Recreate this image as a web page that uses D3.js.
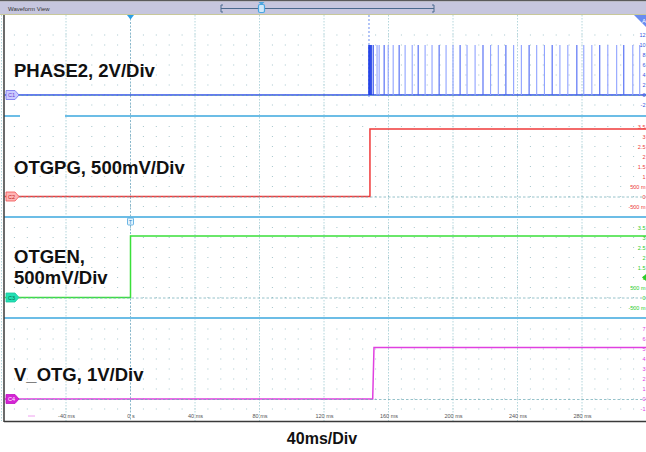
<!DOCTYPE html>
<html>
<head>
<meta charset="utf-8">
<script src="https://cdn.jsdelivr.net/npm/d3@7"></script>
<style>
  html, body { margin: 0; padding: 0; background: #fff; }
  svg { display: block; }
  .ax text { font-family: "Liberation Sans", Arial, sans-serif; font-size: 5.5px; fill: #555; }
</style>
</head>
<body>
<svg id="chart" width="646" height="452"></svg>
<script>
// ---- data ----
const timeTicks = [-40, 0, 40, 80, 120, 160, 200, 240, 280];          // ms
const timeTickLabels = ["-40 ms", "0 s", "40 ms", "80 ms", "120 ms", "160 ms", "200 ms", "240 ms", "280 ms"];

// PHASE2 switching pulses: start times (ms) and peak level (V)
const phase2PulseTimes = [147.9, 148.5, 149.2, 150.5, 152.9, 154.2, 157.3, 159.8, 162.9, 166.6,
  170.3, 174.7, 178.4, 182.7, 187.0, 191.4, 195.7, 200.0, 204.4, 208.7, 213.7, 218.6,
  223.3, 228.1, 232.8, 237.6, 242.4, 247.2, 251.9, 256.7, 261.5, 266.3,
  271.2, 276.8, 281.1, 286.1, 291.0, 296.0, 301.5, 305.9, 311.5, 315.8];
const phase2PulseLevel = 10;

// step waveforms: [time ms, volts]
const otgpgPoints = [[-78, 0], [148.5, 0], [148.5, 3.37], [320, 3.37]];
const otgenPoints = [[-78, 0], [0, 0], [0, 3.07], [320, 3.07]];
const vOtgPoints = [[-78, 0], [150.2, 0], [151.0, 5.15], [320, 5.15]];

// vertical scale labels per channel
const c1Levels = [12, 10, 8, 6, 4, 2, 0, -2];
const c1LevelLabels = ["12", "10", "8", "6", "4", "2", "0", "-2"];
const c2Levels = [3.5, 3, 2.5, 2, 1.5, 1, 0.5, 0, -0.5];
const c2LevelLabels = ["3.5", "3", "2.5", "2", "1.5", "1", "500 m", "0", "-500 m"];
const c3Levels = [3.5, 3, 2.5, 2, 1.5, 1, 0.5, 0, -0.5];
const c3LevelLabels = ["3.5", "3", "2.5", "2", "1.5", "1", "500 m", "0", "-500 m"];
const c4Levels = [7, 6, 5, 4, 3, 2, 1, 0, -1];
const c4LevelLabels = ["7", "6", "5", "4", "3", "2", "1", "0", "-1"];

const channelTitles = [["PHASE2, 2V/Div"], ["OTGPG, 500mV/Div"], ["OTGEN,", "500mV/Div"], ["V_OTG, 1V/Div"]];

// ---- layout ----
const svg = d3.select("#chart");
const W = 646;
const plotLeft = 4, plotTop = 15, plotBottom = 421;
const x = d3.scaleLinear().domain([-40, 280]).range([66, 582]);

const panels = [
  { top: 15,  bottom: 116, y: d3.scaleLinear().domain([-2, 12]).range([105, 35]),
    levels: c1Levels, labels: c1LevelLabels, color: "#3050e8", label: "#3a55e0",
    mFill: "#c9c9ff", mStroke: "#7070f0", mText: "#7040d0", name: "C1" },
  { top: 116, bottom: 217, y: d3.scaleLinear().domain([-0.5, 3.5]).range([206.5, 126.5]),
    levels: c2Levels, labels: c2LevelLabels, color: "#f03a3a", label: "#f03a3a",
    mFill: "#ffb4b4", mStroke: "#f05050", mText: "#c02020", name: "C2" },
  { top: 217, bottom: 318, y: d3.scaleLinear().domain([-0.5, 3.5]).range([307.5, 227.5]),
    levels: c3Levels, labels: c3LevelLabels, color: "#3ae03a", label: "#2ccc2c",
    mFill: "#22e0b4", mStroke: "#18c8a0", mText: "#0a6a50", name: "C3" },
  { top: 318, bottom: 421, y: d3.scaleLinear().domain([-1, 7]).range([409, 329]),
    levels: c4Levels, labels: c4LevelLabels, color: "#e040e0", label: "#e040e0",
    mFill: "#d424d4", mStroke: "#c010c0", mText: "#ffffff", name: "C4" }
];

// ---- header bar ----
svg.append("rect").attr("x", 0).attr("y", 0).attr("width", W).attr("height", 1.5).attr("fill", "#5a5a5a");
svg.append("rect").attr("x", 0).attr("y", 1.5).attr("width", W).attr("height", 12.5).attr("fill", "#c6c6de");
svg.append("rect").attr("x", 0).attr("y", 14).attr("width", W).attr("height", 1).attr("fill", "#c8c89a");
svg.append("text").attr("x", 8).attr("y", 10.5)
  .attr("font-family", "Liberation Sans, Arial, sans-serif").attr("font-size", 6)
  .attr("fill", "#333").text("Waveform View");
const sb = svg.append("g").attr("stroke", "#4a6a8e").attr("fill", "none");
sb.append("line").attr("x1", 221).attr("x2", 434).attr("y1", 8.5).attr("y2", 8.5).attr("stroke-width", 1.2);
sb.append("path").attr("d", "M223,5H221V12H223").attr("stroke-width", 1);
sb.append("path").attr("d", "M432,5H434V12H432").attr("stroke-width", 1);
svg.append("rect").attr("x", 258.5).attr("y", 4.5).attr("width", 6).attr("height", 8).attr("rx", 1.5)
  .attr("fill", "#cfe8fa").attr("stroke", "#4aa6e0").attr("stroke-width", 1.2);
svg.append("path").attr("d", "M258.5,2L264.5,2L261.5,5Z").attr("fill", "#4aa6e0");

// ---- dot grid ----
const dotCols = d3.range(-80, 321, 8).map(t => x(t)).filter(v => v > plotLeft + 2 && v < W);
const dots = svg.append("g").attr("fill", "#a6c6cc");
panels.forEach(p => {
  const rows = p.levels.map(v => p.y(v)).filter(v => v > p.top + 2 && v < p.bottom - 2);
  rows.forEach(ry => dotCols.forEach(cx => {
    dots.append("rect").attr("x", cx - 0.5).attr("y", ry - 0.5).attr("width", 1).attr("height", 1);
  }));
});

// ---- major vertical grid (every 40 ms) ----
const vgrid = d3.range(-80, 321, 40);
svg.append("g").selectAll("line").data(vgrid.filter(t => t !== 0)).join("line")
  .attr("x1", d => x(d)).attr("x2", d => x(d)).attr("y1", plotTop).attr("y2", plotBottom)
  .attr("stroke", "#b4d6dc").attr("stroke-width", 1).attr("stroke-dasharray", "1.5,1.5");
// trigger time line
svg.append("line").attr("x1", x(0)).attr("x2", x(0)).attr("y1", plotTop).attr("y2", plotBottom)
  .attr("stroke", "#8ab8cc").attr("stroke-width", 1).attr("stroke-dasharray", "2,1.5");

// ---- panel separators ----
const sep = svg.append("g").attr("stroke", "#6cbde6").attr("stroke-width", 2);
sep.append("line").attr("x1", plotLeft).attr("x2", 20).attr("y1", 116).attr("y2", 116);
sep.append("line").attr("x1", 65).attr("x2", W).attr("y1", 116).attr("y2", 116);
sep.append("line").attr("x1", plotLeft).attr("x2", W).attr("y1", 217).attr("y2", 217);
sep.append("line").attr("x1", plotLeft).attr("x2", W).attr("y1", 318).attr("y2", 318);

// ---- traces ----
const line = (p) => d3.line().x(d => x(d[0])).y(d => p.y(d[1]));

// C1 baseline + pulses
const c1 = panels[0];
svg.append("line").attr("x1", x(-78)).attr("x2", W).attr("y1", c1.y(0)).attr("y2", c1.y(0))
  .attr("stroke", c1.color).attr("stroke-width", 1.5);
// cursor at burst start
svg.append("line").attr("x1", x(phase2PulseTimes[0])).attr("x2", x(phase2PulseTimes[0]))
  .attr("y1", plotTop).attr("y2", c1.y(-0.6))
  .attr("stroke", "#6a8cf0").attr("stroke-width", 1).attr("stroke-dasharray", "2,2");
svg.append("g").selectAll("line").data(phase2PulseTimes).join("line")
  .attr("x1", d => x(d)).attr("x2", d => x(d))
  .attr("y1", c1.y(0)).attr("y2", c1.y(phase2PulseLevel))
  .attr("stroke", (d, i) => i < 4 ? "#2040e8" : (i % 3 === 0 ? "#4a66f4" : "#8fa2ff"))
  .attr("stroke-width", (d, i) => i < 3 ? 1.6 : 1.1);

const steps = [null, otgpgPoints, otgenPoints, vOtgPoints];
panels.forEach((p, i) => {
  if (steps[i]) {
    svg.append("path").datum(steps[i]).attr("d", line(p))
      .attr("fill", "none").attr("stroke", p.color).attr("stroke-width", 1.5);
  }
  // zero reference
  svg.append("line").attr("x1", 19).attr("x2", W).attr("y1", p.y(0) + 0.5).attr("y2", p.y(0) + 0.5)
    .attr("stroke", "#6aa8b4").attr("stroke-opacity", 0.7).attr("stroke-width", 1)
    .attr("stroke-dasharray", "2.5,2");
});

// ---- channel markers on the left ----
panels.forEach(p => {
  const cy = p.y(0);
  svg.append("path")
    .attr("d", `M6,${cy - 4.5}H15L19,${cy}L15,${cy + 4.5}H6Z`)
    .attr("fill", p.mFill).attr("stroke", p.mStroke).attr("stroke-width", 0.8);
  svg.append("text").attr("x", 11.5).attr("y", cy + 2)
    .attr("text-anchor", "middle").attr("font-family", "Liberation Sans, Arial, sans-serif")
    .attr("font-size", 5.5).attr("fill", p.mText).text(p.name);
});

// ---- right-hand level labels ----
panels.forEach(p => {
  svg.append("g").selectAll("text").data(p.levels).join("text")
    .attr("x", 645.5).attr("y", d => p.y(d) + 2)
    .attr("text-anchor", "end")
    .attr("font-family", "Liberation Sans, Arial, sans-serif").attr("font-size", 5.5)
    .attr("fill", p.label)
    .text((d, i) => p.labels[i]);
});
// offset marker on the right of C3
svg.append("path").attr("d", `M646,${panels[2].y(1) - 3.5}L642,${panels[2].y(1)}L646,${panels[2].y(1) + 3.5}Z`)
  .attr("fill", "#2ccc2c");

// top-right auto-scale badge
svg.append("path").attr("d", "M634,15H646V27Z").attr("fill", "#6a8cf0");
svg.append("text").attr("x", 642).attr("y", 23).attr("font-family", "Liberation Sans, Arial, sans-serif")
  .attr("font-size", 6).attr("fill", "#fff").text("A");

// trigger markers
svg.append("path").attr("d", `M${x(0) - 3.5},15H${x(0) + 3.5}L${x(0)},19.5Z`).attr("fill", "#2aa0e6");
svg.append("rect").attr("x", x(0) - 3).attr("y", 218).attr("width", 6).attr("height", 7).attr("rx", 1)
  .attr("fill", "#e6f4fc").attr("stroke", "#4aa6e0").attr("stroke-width", 0.8);
svg.append("text").attr("x", x(0)).attr("y", 224).attr("text-anchor", "middle")
  .attr("font-family", "Liberation Sans, Arial, sans-serif").attr("font-size", 5.5)
  .attr("fill", "#2a86c8").text("T");

// ---- channel titles ----
const titleY = [[77], [174.3], [262.7, 284], [381]];
channelTitles.forEach((lines, i) => {
  lines.forEach((s, j) => {
    svg.append("text").attr("x", 14).attr("y", titleY[i][j])
      .attr("font-family", "Liberation Sans, Arial, sans-serif").attr("font-weight", "bold")
      .attr("font-size", 18.5).attr("fill", "#111").text(s);
  });
});

// ---- time axis ----
const axis = d3.axisBottom(x).tickValues(timeTicks).tickSize(0)
  .tickFormat((d, i) => timeTickLabels[i]);
svg.append("g").attr("class", "ax").attr("transform", "translate(0,411)").call(axis)
  .call(g => g.select(".domain").remove());
svg.append("line").attr("x1", 28).attr("x2", 35).attr("y1", 416).attr("y2", 416)
  .attr("stroke", "#f0a0f0").attr("stroke-width", 1);

// ---- frame ----
svg.append("line").attr("x1", plotLeft).attr("x2", plotLeft).attr("y1", plotTop).attr("y2", plotBottom + 1)
  .attr("stroke", "#3a3a3a").attr("stroke-width", 1.5);
svg.append("line").attr("x1", plotLeft).attr("x2", W).attr("y1", plotBottom + 0.5).attr("y2", plotBottom + 0.5)
  .attr("stroke", "#3a3a3a").attr("stroke-width", 1.5);

svg.append("text").attr("x", 322).attr("y", 443.5).attr("text-anchor", "middle")
  .attr("font-family", "Liberation Sans, Arial, sans-serif").attr("font-weight", "bold")
  .attr("font-size", 16).attr("fill", "#111").text("40ms/Div");
</script>
</body>
</html>
